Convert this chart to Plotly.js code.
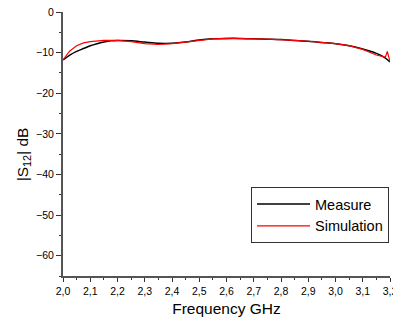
<!DOCTYPE html>
<html>
<head>
<meta charset="utf-8">
<script src="https://cdn.plot.ly/plotly-3.0.1.min.js"></script>
<style>html,body{margin:0;padding:0;background:#fff;overflow:hidden;}#chart{width:393px;height:322px;}</style>
</head>
<body>
<div id="chart"></div>
<script>
const measureFreq = [2.00, 2.025, 2.05, 2.075, 2.10, 2.125, 2.15, 2.175, 2.20, 2.25, 2.30, 2.35, 2.40, 2.45, 2.50, 2.55, 2.60, 2.65, 2.70, 2.75, 2.80, 2.85, 2.90, 2.95, 3.00, 3.05, 3.10, 3.125, 3.15, 3.175, 3.20];
const measureDb   = [-11.8, -10.6, -9.7, -9.0, -8.3, -7.8, -7.4, -7.1, -7.0, -7.1, -7.4, -7.7, -7.7, -7.4, -6.9, -6.6, -6.5, -6.5, -6.6, -6.7, -6.8, -7.0, -7.2, -7.5, -7.8, -8.3, -9.1, -9.6, -10.2, -11.0, -12.3];
const simFreq = [2.00, 2.025, 2.05, 2.075, 2.10, 2.125, 2.15, 2.20, 2.25, 2.30, 2.35, 2.40, 2.45, 2.50, 2.55, 2.60, 2.65, 2.70, 2.75, 2.80, 2.85, 2.90, 2.95, 3.00, 3.05, 3.10, 3.125, 3.15, 3.175, 3.183, 3.19, 3.20];
const simDb   = [-11.8, -9.6, -8.3, -7.6, -7.3, -7.1, -7.0, -7.0, -7.3, -7.8, -8.0, -7.8, -7.4, -6.9, -6.6, -6.5, -6.5, -6.6, -6.7, -6.8, -7.0, -7.2, -7.5, -7.8, -8.3, -9.2, -9.9, -10.6, -11.0, -11.1, -9.7, -12.2];
const xTickVals = [2.0, 2.1, 2.2, 2.3, 2.4, 2.5, 2.6, 2.7, 2.8, 2.9, 3.0, 3.1, 3.2];
const yTickVals = [0, -10, -20, -30, -40, -50, -60];

const traces = [
  {x: measureFreq, y: measureDb, name: 'Measure', type: 'scatter', mode: 'lines',
   line: {color: '#000000', width: 1.5, shape: 'spline', smoothing: 0.8}},
  {x: simFreq, y: simDb, name: 'Simulation', type: 'scatter', mode: 'lines',
   line: {color: '#ff0000', width: 1.2, shape: 'linear'}}
];

const font = {family: 'Liberation Sans, Arial, sans-serif', color: '#000'};
const layout = {
  width: 393, height: 322,
  margin: {l: 63, r: 3, t: 12, b: 46, pad: 0},
  paper_bgcolor: '#fff', plot_bgcolor: '#fff',
  separators: ',.',
  font: font,
  showlegend: true,
  xaxis: {
    range: [2.0, 3.2], tickvals: xTickVals, tickformat: '.1f', ticklabeloverflow: 'allow',
    showgrid: false, zeroline: false, showline: true, linecolor: '#555', linewidth: 2,
    ticks: 'outside', ticklen: 4, tickwidth: 1, tickcolor: '#333',
    minor: {dtick: 0.05, tick0: 2.0, ticks: 'outside', ticklen: 2, tickcolor: '#333', showgrid: false},
    tickfont: {family: font.family, size: 10.5, color: '#000'},
    title: {text: 'Frequency GHz', font: {family: font.family, size: 15.5, color: '#000'}, standoff: 8}
  },
  yaxis: {
    range: [-65, 0], tickvals: yTickVals,
    showgrid: false, zeroline: false, showline: true, linecolor: '#555', linewidth: 2,
    ticks: 'outside', ticklen: 5, tickwidth: 1, tickcolor: '#333',
    minor: {dtick: 5, tick0: 0, ticks: 'outside', ticklen: 2, tickcolor: '#333', showgrid: false},
    tickfont: {family: font.family, size: 10.5, color: '#000'}
  },
  annotations: [{
    text: '|S<sub>12</sub>| dB', xref: 'paper', yref: 'paper',
    x: -0.12, y: 0.46, xanchor: 'center', yanchor: 'middle', textangle: -90, showarrow: false,
    font: {family: font.family, size: 15.5, color: '#000'}
  }],
  legend: {
    x: 0.575, y: 0.337, xanchor: 'left', yanchor: 'top',
    bgcolor: '#fff', bordercolor: '#333', borderwidth: 1,
    font: {family: font.family, size: 14.5, color: '#000'},
    tracegroupgap: 0, itemwidth: 53, entrywidth: 150, entrywidthmode: 'pixels'
  }
};
Plotly.newPlot('chart', traces, layout, {displayModeBar: false, staticPlot: true});
</script>
</body>
</html>
